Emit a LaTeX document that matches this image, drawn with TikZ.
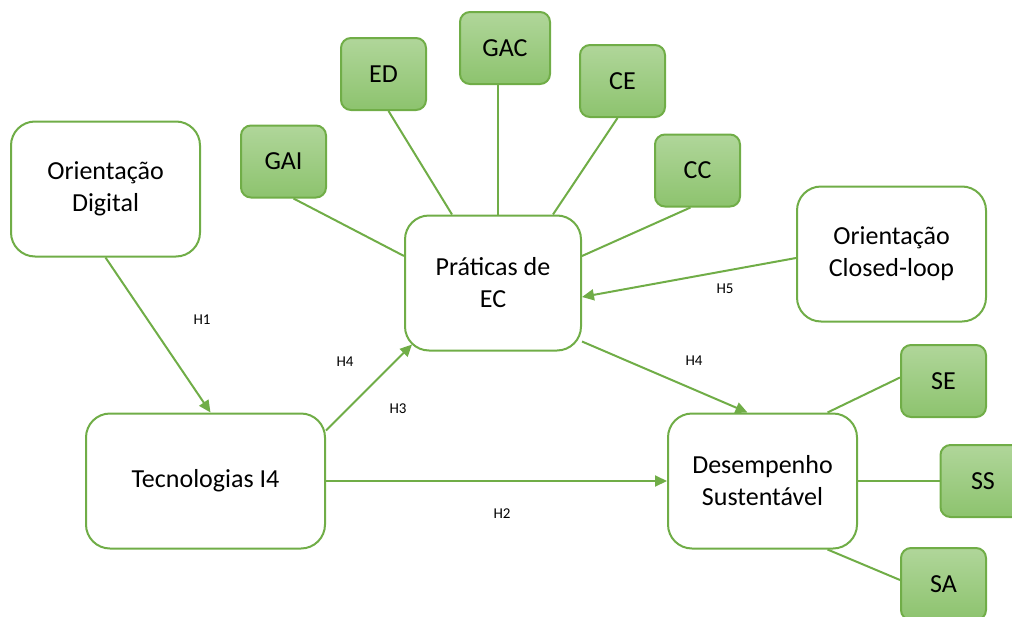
\documentclass[tikz,border=0pt]{standalone}
\usepackage{fontspec}
\setmainfont{Carlito}
\usetikzlibrary{arrows.meta}
\definecolor{linegreen}{RGB}{112,173,71}
\definecolor{lightgreen}{RGB}{176,214,154}
\definecolor{midgreen}{RGB}{141,195,110}
\begin{document}
\begin{tikzpicture}[x=1pt,y=-1pt,
    bigbox/.style={draw=linegreen, line width=2pt, fill=white, rounded corners=24pt,
      minimum height=135pt, align=center, inner sep=0pt,
      font=\fontsize{26}{32}\selectfont},
    subbox/.style={draw=linegreen, line width=2pt, rounded corners=10pt,
      top color=lightgreen, bottom color=midgreen,
      minimum width=85pt, minimum height=72pt, inner sep=0pt,
      font=\fontsize{26}{31}\selectfont},
    link/.style={draw=linegreen, line width=2pt},
    hyp/.style={link, -{Triangle[length=12pt,width=11pt]}},
    hlabel/.style={font=\fontsize{15}{18}\selectfont, inner sep=0pt}]

	\useasboundingbox (0,0) rectangle (1012,616);
	\clip (0,0) rectangle (1012,616);

	% Main constructs
	\node[bigbox, minimum width=189pt] (orient) at (105.5,189) {Orientação\\Digital};
	\node[bigbox, minimum width=239pt] (tec) at (205.5,481) {Tecnologias I4};
	\node[bigbox, minimum width=176pt] (prat) at (493,283) {Práticas de\\EC};
	\node[bigbox, minimum width=189pt] (closed) at (891.5,254) {Orientação\\Closed-loop};
	\node[bigbox, minimum width=189pt] (desemp) at (762.5,481) {Desempenho\\Sustentável};

	% Dimensions of EC
	\node[subbox] (gai) at (283.5,161.5) {GAI};
	\node[subbox] (ed) at (383.5,74) {ED};
	\node[subbox, minimum width=90pt] (gac) at (505,48) {GAC};
	\node[subbox] (ce) at (622.5,81) {CE};
	\node[subbox] (cc) at (697.5,170.5) {CC};

	% Dimensions of performance
	\node[subbox] (se) at (943.5,381) {SE};
	\node[subbox] (ss) at (983,481) {SS};
	\node[subbox] (sa) at (943.5,584) {SA};

	% Lines to the dimensions
	\draw[link] ([xshift=10pt]gai.south) -- ([yshift=27pt]prat.west);
	\draw[link] ([xshift=5pt]ed.south) -- ([xshift=-41pt]prat.north);
	\draw[link] ([xshift=-7pt]gac.south) -- ([xshift=5pt]prat.north);
	\draw[link] ([xshift=-5pt]ce.south) -- ([xshift=60pt]prat.north);
	\draw[link] ([xshift=-7pt]cc.south) -- ([yshift=27pt]prat.east);
	\draw[link] ([yshift=3.5pt]se.west) -- ([xshift=65pt]desemp.north);
	\draw[link] (desemp.east) -- (ss.west);
	\draw[link] ([xshift=65pt]desemp.south) -- ([yshift=4pt]sa.west);

	% Hypotheses
	\draw[hyp] (orient.south) -- ([xshift=5pt]tec.north);
	\draw[hyp] ([yshift=-18pt]tec.north east) -- ([xshift=8pt,yshift=7pt]prat.south west);
	\draw[hyp] (tec.east) -- (desemp.west);
	\draw[hyp] ([yshift=10pt]prat.south east) -- ([xshift=-15pt]desemp.north);
	\draw[hyp] ([yshift=-4pt]closed.west) -- ([yshift=-14pt]prat.east);

	% Labels
	\node[hlabel] (h1) at (202,320) {H1};
	\node[hlabel] (h4a) at (345,362) {H4};
	\node[hlabel] (h3) at (398,409) {H3};
	\node[hlabel] (h5) at (725,289) {H5};
	\node[hlabel] (h4b) at (694,361) {H4};
	\node[hlabel] (h2) at (502,514) {H2};

\end{tikzpicture}
\end{document}
